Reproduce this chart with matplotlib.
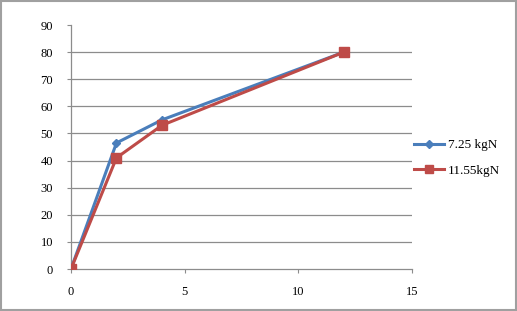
import matplotlib.pyplot as plt
from matplotlib.patches import Rectangle

plt.rcParams['font.family'] = 'Liberation Serif'

# data
x_blue = [0, 2, 4, 12]
y_blue = [0, 46.5, 55, 80]
x_red = [0, 2, 4, 12]
y_red = [0, 41, 53, 80]
labels = ['7.25 kgN', '11.55kgN']

fig = plt.figure(figsize=(5.17, 3.11), dpi=100)
ax = fig.add_axes([0.1373, 0.135, 0.797 - 0.1373, 0.9196 - 0.135])

ax.plot(x_blue, y_blue, color='#4A7EBB', lw=2.2, marker='D', markersize=4.5,
        label=labels[0], zorder=3)
ax.plot(x_red, y_red, color='#BE4B48', lw=2.2, marker='s', markersize=7,
        label=labels[1], zorder=3)

ax.set_xlim(0, 15)
ax.set_ylim(0, 90)
ax.set_xticks([0, 5, 10, 15])
ax.set_yticks(range(0, 91, 10))

# gridlines only up to 80, like the original
for yv in range(10, 81, 10):
    ax.axhline(yv, color='#8c8c8c', lw=0.9, zorder=1)

for s in ['top', 'right']:
    ax.spines[s].set_visible(False)
for s in ['left', 'bottom']:
    ax.spines[s].set_color('#8c8c8c')
    ax.spines[s].set_linewidth(0.9)

ax.tick_params(axis='y', length=3, color='#8c8c8c', labelsize=9, pad=10)
ax.tick_params(axis='x', length=3, color='#8c8c8c', labelsize=9, pad=9)

ax.legend(loc='center left', bbox_to_anchor=(0.99, 0.455), frameon=False,
          fontsize=9.5, handlelength=2.3, handletextpad=0.3, labelspacing=1.0,
          borderaxespad=0, markerscale=0.9)

# grey frame around the whole chart
fig.patches.append(Rectangle((0.002, 0.003), 0.996, 0.994, transform=fig.transFigure,
                             fill=False, edgecolor='#a0a0a0', lw=1.5))

fig.savefig('out.png', dpi=100)
